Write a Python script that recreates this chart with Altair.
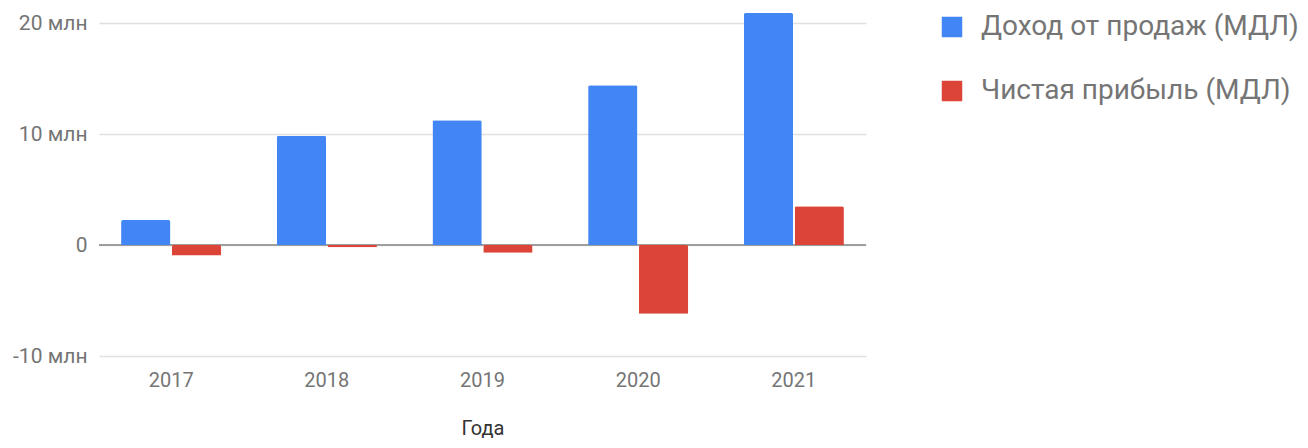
import altair as alt
import pandas as pd

years = ["2017", "2018", "2019", "2020", "2021"]
series = ["Доход от продаж (МДЛ)", "Чистая прибыль (МДЛ)"]
revenue = [2.25e6, 9.85e6, 11.25e6, 14.4e6, 20.9e6]
profit = [-0.95e6, -0.2e6, -0.7e6, -6.2e6, 3.5e6]
colors = ["#4285F4", "#DB4437"]
y_ticks = [-10e6, 0, 10e6, 20e6]

rows = []
for i, yr in enumerate(years):
    rows.append({"year": yr, "series": series[0], "value": revenue[i]})
    rows.append({"year": yr, "series": series[1], "value": profit[i]})
df = pd.DataFrame(rows)

FONT = "Roboto"

x_enc = alt.X("year:N", title="Года", sort=years,
              scale=alt.Scale(paddingInner=0.357, paddingOuter=0.142),
              axis=alt.Axis(labelAngle=0, domain=False, ticks=False, grid=False,
                            labelFont=FONT, labelFontSize=20, labelColor="#757575",
                            labelPadding=14, titleFont=FONT, titleFontSize=20,
                            titleFontWeight="normal", titleColor="#333333",
                            titlePadding=28))
y_scale = alt.Scale(domain=[-10e6, 20e6], nice=False, zero=False)

bars = alt.Chart(df).mark_bar(cornerRadiusEnd=2).encode(
    x=x_enc,
    xOffset=alt.XOffset("series:N", sort=series, scale=alt.Scale(paddingInner=0.03, paddingOuter=0)),
    y=alt.Y("value:Q", title=None, scale=y_scale,
            axis=alt.Axis(values=y_ticks, domain=False, ticks=False, grid=True,
                          gridColor="#e0e0e0", gridWidth=1.5,
                          labelExpr="datum.value == 0 ? '0' : (datum.value < 0 ? '-' : '') + format(abs(datum.value) / 1000000, 'd') + ' млн'",
                          labelFont=FONT, labelFontSize=21, labelColor="#757575",
                          labelPadding=12)),
    color=alt.Color("series:N", sort=series,
                    scale=alt.Scale(domain=series, range=colors),
                    legend=alt.Legend(title=None, orient="none", legendX=839, legendY=-10,
                                      symbolType="square", symbolSize=420,
                                      symbolStrokeWidth=0, labelFont=FONT,
                                      labelFontSize=28, labelColor="#757575",
                                      labelOffset=15, rowPadding=36, labelLimit=0)),
)

zero_rule = alt.Chart(pd.DataFrame({"z": [0]})).mark_rule(color="#9e9e9e", strokeWidth=2).encode(
    y=alt.Y("z:Q", scale=y_scale)
)

chart = alt.layer(zero_rule, bars).properties(
    width=767, height=333,
    padding={"left": 91, "top": 15, "right": 434, "bottom": 84},
    autosize=alt.AutoSizeParams(type="none"),
).configure_view(stroke=None)

chart.save("out.html", embed_options={"renderer": "svg", "actions": False})
